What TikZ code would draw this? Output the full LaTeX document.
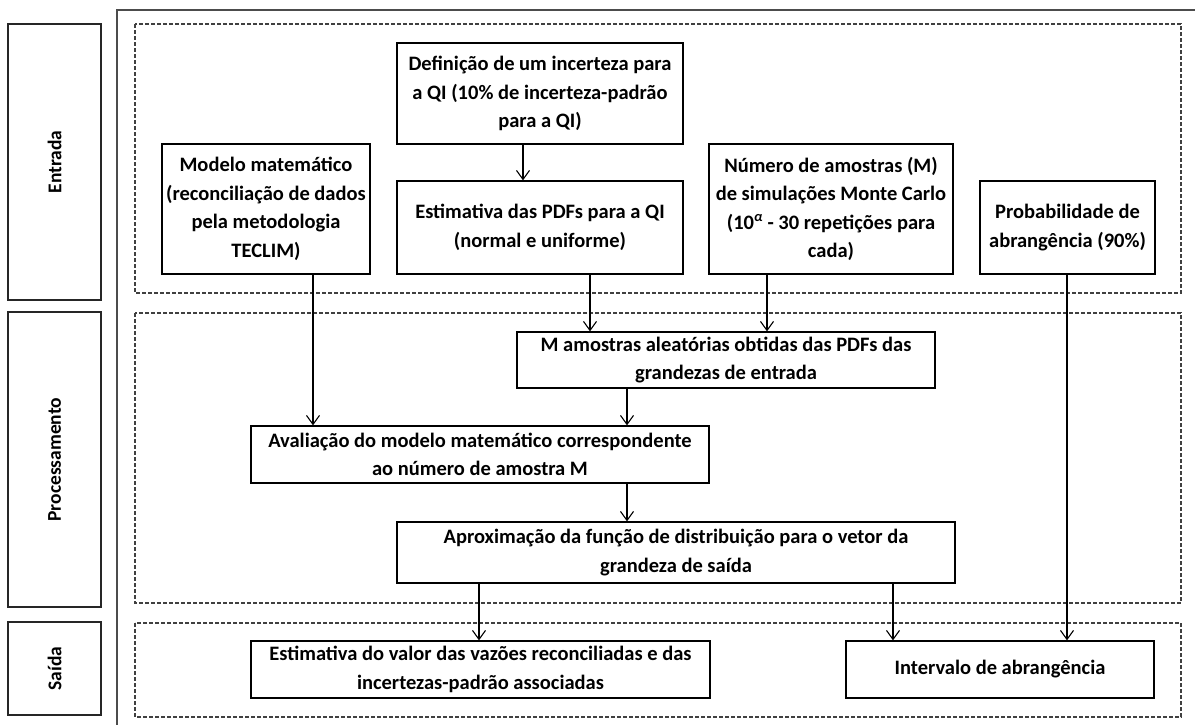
\documentclass[tikz,border=0pt]{standalone}
\usepackage{fontspec}
\setmainfont{Carlito}
\usetikzlibrary{arrows.meta}
\begin{document}
\begin{tikzpicture}[x=1pt,y=-1pt,
  box/.style={draw=black,line width=1.3pt,align=center,inner sep=0pt,
    font=\fontsize{20.5}{28.5}\selectfont\bfseries},
  lab/.style={draw=black!85,line width=1.5pt,rotate=90,inner sep=0pt,
    font=\fontsize{19.5}{22}\selectfont\bfseries},
  zone/.style={draw=black!75,line width=1.3pt,dash pattern=on 4pt off 2pt},
  frame/.style={draw=black!70,line width=2pt},
  arr/.style={draw=black,line width=1.1pt,-{Straight Barb[length=9pt,width=13pt,line width=1.1pt]}}]
\useasboundingbox (0,0) rectangle (1195,724);
% outer frame (open)
\draw[frame] (117,730) -- (117,9.5) -- (1200,9.5);
% dashed zones
\draw[zone] (135,24) rectangle (1181,293);
\draw[zone] (135,313) rectangle (1181,603);
\draw[zone] (135,623) rectangle (1181,717);
% side labels
\node[lab,minimum width=276pt,minimum height=93pt] (lent) at (54.5,162) {Entrada};
\node[lab,minimum width=295pt,minimum height=93pt] (lproc) at (54.5,459.5) {Processamento};
\node[lab,minimum width=93pt,minimum height=93pt] (lsai) at (54.5,668.5) {Saída};
% boxes
\node[box,minimum width=286pt,minimum height=101pt] (def) at (540,93.5)
  {Definição de um incerteza para\\a QI (10\% de incerteza-padrão\\para a QI)};
\node[box,minimum width=286pt,minimum height=93pt] (pdf) at (540,227.5)
  {Estimativa das PDFs para a QI\\(normal e uniforme)};
\node[box,minimum width=208pt,minimum height=130pt] (mod) at (266,209)
  {Modelo matemático\\(reconciliação de dados\\pela metodologia\\TECLIM)};
\node[box,minimum width=244pt,minimum height=130pt] (num) at (831,209)
  {Número de amostras (M)\\de simulações Monte Carlo\\(10\textsuperscript{\textit{α}} - 30 repetições para\\cada)};
\node[box,minimum width=175pt,minimum height=93pt] (prob) at (1067.5,227.5)
  {Probabilidade de\\abrangência (90\%)};
\node[box,minimum width=418pt,minimum height=56pt] (mam) at (726,360)
  {M amostras aleatórias obtidas das PDFs das\\grandezas de entrada};
\node[box,minimum width=458pt,minimum height=57pt] (aval) at (480,454.5)
  {Avaliação do modelo matemático correspondente\\ao número de amostra M};
\node[box,minimum width=558pt,minimum height=61pt] (aprox) at (676,552.5)
  {Aproximação da função de distribuição para o vetor da\\grandeza de saída};
\node[box,minimum width=459pt,minimum height=57pt] (est) at (480.5,669.5)
  {Estimativa do valor das vazões reconciliadas e das\\incertezas-padrão associadas};
\node[box,minimum width=308pt,minimum height=57pt] (int) at (1000,669.5)
  {Intervalo de abrangência};
% arrows
\draw[arr] ([xshift=-17pt]def.south) -- ([xshift=-17pt]pdf.north);
\draw[arr] ([xshift=50pt]pdf.south) -- ([xshift=-136pt]mam.north);
\draw[arr] ([xshift=-64pt]num.south) -- ([xshift=41pt]mam.north);
\draw[arr] ([xshift=47pt]mod.south) -- ([xshift=-167pt]aval.north);
\draw[arr] ([xshift=-99pt]mam.south) -- ([xshift=147pt]aval.north);
\draw[arr] ([xshift=147pt]aval.south) -- ([xshift=-49pt]aprox.north);
\draw[arr] ([xshift=-197pt]aprox.south) -- ([xshift=-1.5pt]est.north);
\draw[arr] ([xshift=217pt]aprox.south) -- ([xshift=-107pt]int.north);
\draw[arr] ([xshift=-0.5pt]prob.south) -- ([xshift=67pt]int.north);
\end{tikzpicture}
\end{document}
